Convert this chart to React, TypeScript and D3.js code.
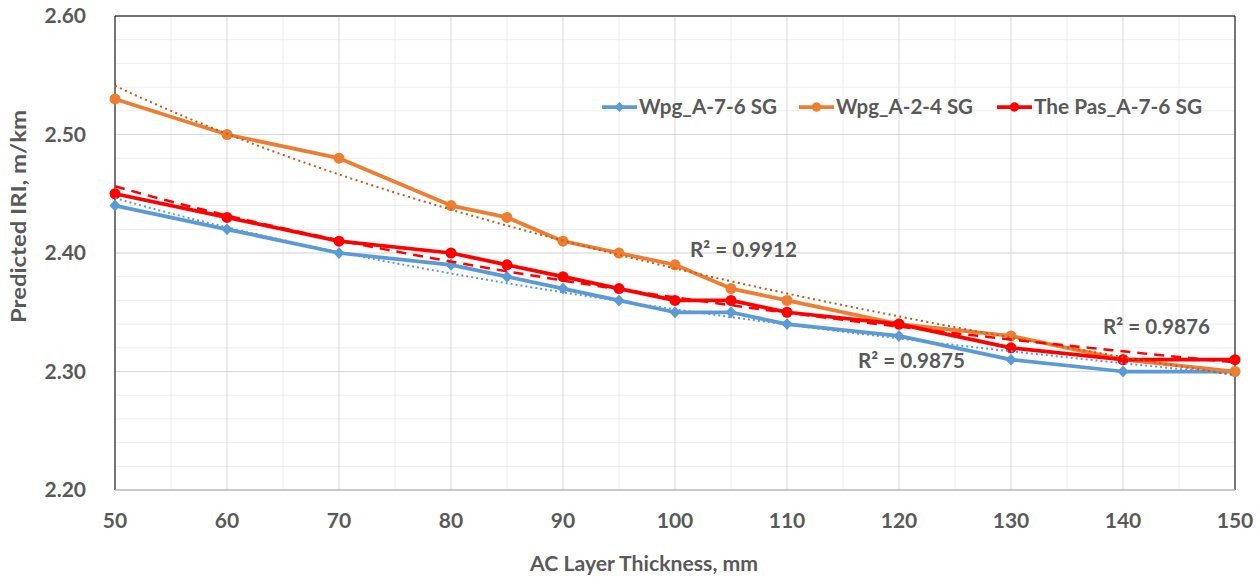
import React from "react";
import * as d3 from "d3";

const thickness = [50, 60, 70, 80, 85, 90, 95, 100, 105, 110, 120, 130, 140, 150];
const wpgA76 = [2.44, 2.42, 2.40, 2.39, 2.38, 2.37, 2.36, 2.35, 2.35, 2.34, 2.33, 2.31, 2.30, 2.30];
const wpgA24 = [2.53, 2.50, 2.48, 2.44, 2.43, 2.41, 2.40, 2.39, 2.37, 2.36, 2.34, 2.33, 2.31, 2.30];
const thePasA76 = [2.45, 2.43, 2.41, 2.40, 2.39, 2.38, 2.37, 2.36, 2.36, 2.35, 2.34, 2.32, 2.31, 2.31];
const seriesNames = ["Wpg_A-7-6 SG", "Wpg_A-2-4 SG", "The Pas_A-7-6 SG"];
const r2Labels = ["R² = 0.9875", "R² = 0.9912", "R² = 0.9876"];
const xTicks = [50, 60, 70, 80, 90, 100, 110, 120, 130, 140, 150];
const yTicks = [2.2, 2.3, 2.4, 2.5, 2.6];

const W = 1260, H = 580;
const M = { left: 115, right: 1235, top: 16, bottom: 490 };
const FONT = "Lato, 'Open Sans', sans-serif";
const GRAY = "#595959";

// logarithmic least squares: y = a + b ln x
function logFit(xs: number[], ys: number[]) {
  const lx = xs.map((v) => Math.log(v));
  const mx = d3.mean(lx)!, my = d3.mean(ys)!;
  let sxy = 0, sxx = 0;
  for (let i = 0; i < xs.length; i++) {
    sxy += (lx[i] - mx) * (ys[i] - my);
    sxx += (lx[i] - mx) * (lx[i] - mx);
  }
  const b = sxy / sxx, a = my - b * mx;
  return (x: number) => a + b * Math.log(x);
}

export default function App() {
  const x = d3.scaleLinear().domain([50, 150]).range([M.left, M.right]);
  const y = d3.scaleLinear().domain([2.2, 2.6]).range([M.bottom, M.top]);
  const line = d3.line<[number, number]>().x((d) => x(d[0])).y((d) => y(d[1]));

  const series = [
    { name: seriesNames[0], vals: wpgA76, color: "#5B9BD5", marker: "diamond", trend: "#5B9BD5", dash: "2 3", tw: 2 },
    { name: seriesNames[1], vals: wpgA24, color: "#ED7D31", marker: "circle", trend: "#C55A11", dash: "2 3.5", tw: 2 },
    { name: seriesNames[2], vals: thePasA76, color: "#FF0000", marker: "circle", trend: "#FF0000", dash: "10 7", tw: 2.5 },
  ];

  const minorX = d3.range(55, 150, 10);
  const minorY = d3.range(2.2, 2.6001, 0.02);
  const fineX = d3.range(50, 150.01, 1);

  const drawMarker = (m: string, cx: number, cy: number, color: string, key: string, size = 1) =>
    m === "diamond" ? (
      <path key={key} d={`M${cx},${cy - 6 * size}L${cx + 5.5 * size},${cy}L${cx},${cy + 6 * size}L${cx - 5.5 * size},${cy}Z`} fill={color} />
    ) : (
      <circle key={key} cx={cx} cy={cy} r={5.5 * size} fill={color} />
    );

  const legendX = [602, 799, 997];
  const legendW = [138, 137, 168];
  const legendY = 107;
  const r2Pos = [
    { x: 858, y: 368 },
    { x: 690, y: 257 },
    { x: 1103, y: 334 },
  ];

  return (
    <svg width={W} height={H} style={{ display: "block", position: "absolute", left: 0, top: 0, background: "#fff" }}>
      <rect x={0} y={0} width={W} height={H} fill="#fff" />
      {minorY.map((v, i) => (
        <line key={"my" + i} x1={M.left} x2={M.right} y1={y(v)} y2={y(v)} stroke="#EDEDED" strokeWidth={1} />
      ))}
      {minorX.map((v) => (
        <line key={"mx" + v} x1={x(v)} x2={x(v)} y1={M.top} y2={M.bottom} stroke="#EDEDED" strokeWidth={1} />
      ))}
      {yTicks.map((v) => (
        <line key={"gy" + v} x1={M.left} x2={M.right} y1={y(v)} y2={y(v)} stroke="#D9D9D9" strokeWidth={1} />
      ))}
      {xTicks.map((v) => (
        <line key={"gx" + v} x1={x(v)} x2={x(v)} y1={M.top} y2={M.bottom} stroke="#D9D9D9" strokeWidth={1} />
      ))}
      <line x1={M.left} x2={M.right} y1={M.top} y2={M.top} stroke="#000" strokeWidth={1} />
      <line x1={M.left} x2={M.left} y1={M.top} y2={M.bottom} stroke="#000" strokeWidth={1} />
      <line x1={M.right} x2={M.right} y1={M.top} y2={M.bottom} stroke="#000" strokeWidth={1} />
      <line x1={M.left} x2={M.right} y1={M.bottom} y2={M.bottom} stroke="#BFBFBF" strokeWidth={1.5} />

      {series.map((s) => (
        <path key={"l" + s.name} d={line(thickness.map((t, i) => [t, s.vals[i]]))!} fill="none" stroke={s.color} strokeWidth={3.75} strokeLinejoin="round" />
      ))}
      {series.map((s) =>
        thickness.map((t, i) => drawMarker(s.marker, x(t), y(s.vals[i]), s.color, s.name + i))
      )}
      {series.map((s) => {
        const f = logFit(thickness, s.vals);
        return (
          <path key={"t" + s.name} d={line(fineX.map((v) => [v, f(v)]))!} fill="none" stroke={s.trend} strokeWidth={s.tw} strokeDasharray={s.dash} />
        );
      })}

      {yTicks.map((v) => (
        <text key={"yt" + v} x={86} y={y(v)} dy="0.35em" textAnchor="end" fontFamily={FONT} fontWeight={700} fontSize={21} fill={GRAY}>
          {v.toFixed(2)}
        </text>
      ))}
      {xTicks.map((v) => (
        <text key={"xt" + v} x={x(v)} y={528} textAnchor="middle" fontFamily={FONT} fontWeight={700} fontSize={21} fill={GRAY}>
          {v}
        </text>
      ))}
      <text x={530} y={571} fontFamily={FONT} fontWeight={700} fontSize={21} fill={GRAY} textLength={228} lengthAdjust="spacingAndGlyphs">
        AC Layer Thickness, mm
      </text>
      <text transform={`translate(26,323) rotate(-90)`} fontFamily={FONT} fontWeight={700} fontSize={21} fill={GRAY} textLength={213} lengthAdjust="spacingAndGlyphs">
        Predicted IRI, m/km
      </text>

      {series.map((s, i) => (
        <g key={"lg" + i}>
          <line x1={legendX[i]} x2={legendX[i] + 35} y1={legendY} y2={legendY} stroke={s.color} strokeWidth={3.75} />
          {drawMarker(s.marker, legendX[i] + 17.5, legendY, s.color, "lm" + i, 0.85)}
          <text x={legendX[i] + 37} y={114} fontFamily={FONT} fontWeight={700} fontSize={20} fill={GRAY} textLength={legendW[i]} lengthAdjust="spacingAndGlyphs">
            {s.name}
          </text>
        </g>
      ))}

      {r2Labels.map((t, i) => (
        <text key={"r2" + i} x={r2Pos[i].x} y={r2Pos[i].y} fontFamily={FONT} fontWeight={700} fontSize={21} fill={GRAY} textLength={107} lengthAdjust="spacingAndGlyphs">
          {t}
        </text>
      ))}
    </svg>
  );
}
